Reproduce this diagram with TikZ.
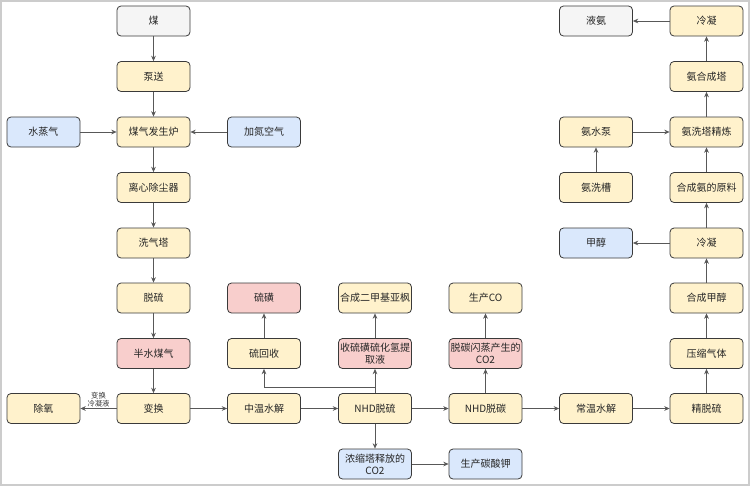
\documentclass[tikz,border=0pt]{standalone}
\usepackage{fontspec}
\setmainfont{Noto Sans CJK SC}
\usetikzlibrary{arrows.meta}
\definecolor{yel}{HTML}{FFF2CC}
\definecolor{pnk}{HTML}{F8CECC}
\definecolor{blu}{HTML}{DAE8FC}
\definecolor{gry}{HTML}{F5F5F5}
\definecolor{edge}{HTML}{3A3A3A}
\definecolor{frame}{HTML}{CCCCCC}
\tikzset{
  box/.style={draw=edge, rounded corners=3pt, minimum width=54.75pt, minimum height=22.5pt,
    inner sep=1pt, align=center, font=\fontsize{7.5}{9}\selectfont, line width=0.6pt, text=black!85},
  Y/.style={box, fill=yel}, R/.style={box, fill=pnk}, B/.style={box, fill=blu}, G/.style={box, fill=gry},
  arr/.style={draw=edge!85, line width=0.5pt, -{Stealth[length=4pt,width=3.5pt]}},
  lbl/.style={font=\fontsize{5.5}{6}\selectfont, text=black!80, align=center, inner sep=0.5pt}
}
\begin{document}
\begin{tikzpicture}[x=0.75pt,y=-0.75pt]
\useasboundingbox (0,0) rectangle (750,486);
\draw[frame, line width=0.8pt] (1,1) rectangle (749,485);
% column A
\node[G] (coal) at (153.5,21) {煤};
\node[Y] (pump) at (153.5,76.5) {泵送};
\node[Y] (gas) at (153.5,132) {煤气发生炉};
\node[B] (steam) at (43.5,132) {水蒸气};
\node[B] (air) at (264,132) {加氮空气};
\node[Y] (dust) at (153.5,187.5) {离心除尘器};
\node[Y] (wash) at (153.5,243) {洗气塔};
\node[Y] (desulf) at (153.5,298) {脱硫};
\node[R] (semi) at (153.5,353.5) {半水煤气};
\node[Y] (shift) at (153.5,408.5) {变换};
\node[Y] (deox) at (43.5,408.5) {除氧};
% bottom row
\node[Y] (hydro) at (264,408.5) {中温水解};
\node[Y] (nhds) at (375,408.5) {NHD脱硫};
\node[Y] (nhdc) at (485.5,408.5) {NHD脱碳};
\node[Y] (rthyd) at (596,408.5) {常温水解};
\node[Y] (fine) at (706.5,408.5) {精脱硫};
% middle columns
\node[Y] (srec) at (264,353.5) {硫回收};
\node[R] (sulfur) at (264,298) {硫磺};
\node[R] (h2s) at (375,353.5) {收硫磺硫化氢提\\取液};
\node[Y] (dmso) at (375,298) {合成二甲基亚枫};
\node[R] (flash) at (485.5,353.5) {脱碳闪蒸产生的\\CO2};
\node[Y] (co) at (485.5,298) {生产CO};
\node[B] (conc) at (375,464) {浓缩塔释放的\\CO2};
\node[B] (k2co3) at (485.5,464) {生产碳酸钾};
% right column
\node[Y] (comp) at (706.5,353.5) {压缩气体};
\node[Y] (meoh) at (706.5,298) {合成甲醇};
\node[Y] (cond1) at (706.5,243) {冷凝};
\node[B] (methanol) at (596,243) {甲醇};
\node[Y] (nh3raw) at (706.5,187.5) {合成氨的原料};
\node[Y] (tank) at (596,187.5) {氨洗槽};
\node[Y] (wtower) at (706.5,132) {氨洗塔精炼};
\node[Y] (apump) at (596,132) {氨水泵};
\node[Y] (synth) at (706.5,76.5) {氨合成塔};
\node[Y] (cond2) at (706.5,21) {冷凝};
\node[G] (liq) at (596,21) {液氨};
% edges column A
\draw[arr] (coal) -- (pump);
\draw[arr] (pump) -- (gas);
\draw[arr] (steam) -- (gas);
\draw[arr] (air) -- (gas);
\draw[arr] (gas) -- (dust);
\draw[arr] (dust) -- (wash);
\draw[arr] (wash) -- (desulf);
\draw[arr] (desulf) -- (semi);
\draw[arr] (semi) -- (shift);
\draw[arr] (shift) -- node[lbl, above=0.5pt] {变换\\冷凝液} (deox);
% bottom row
\draw[arr] (shift) -- (hydro);
\draw[arr] (hydro) -- (nhds);
\draw[arr] (nhds) -- (nhdc);
\draw[arr] (nhdc) -- (rthyd);
\draw[arr] (rthyd) -- (fine);
% branches
\coordinate (br) at (375,387);
\draw[arr] (nhds) -- (h2s);
\draw[arr] (br) -| (srec);
\draw[arr] (srec) -- (sulfur);
\draw[arr] (h2s) -- (dmso);
\draw[arr] (nhdc) -- (flash);
\draw[arr] (flash) -- (co);
\draw[arr] (nhds) -- (conc);
\draw[arr] (conc) -- (k2co3);
% right column
\draw[arr] (fine) -- (comp);
\draw[arr] (comp) -- (meoh);
\draw[arr] (meoh) -- (cond1);
\draw[arr] (cond1) -- (methanol);
\draw[arr] (cond1) -- (nh3raw);
\draw[arr] (nh3raw) -- (wtower);
\draw[arr] (tank) -- (apump);
\draw[arr] (apump) -- (wtower);
\draw[arr] (wtower) -- (synth);
\draw[arr] (synth) -- (cond2);
\draw[arr] (cond2) -- (liq);
\end{tikzpicture}
\end{document}
